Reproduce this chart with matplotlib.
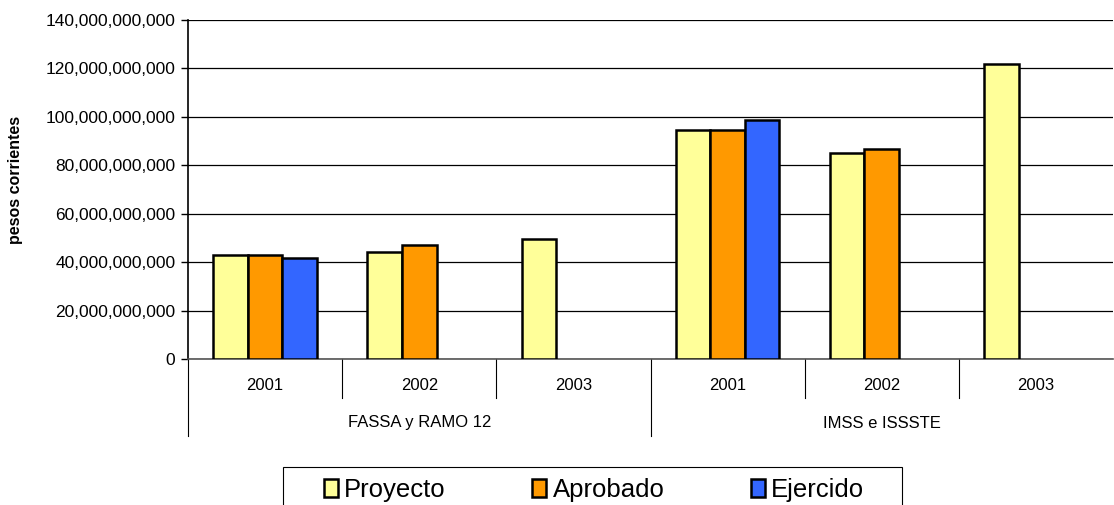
import matplotlib
matplotlib.use("Agg")
import matplotlib.pyplot as plt
import numpy as np
from matplotlib.ticker import FuncFormatter
from matplotlib.patches import Rectangle

plt.rcParams['font.family'] = ['Liberation Sans', 'DejaVu Sans']

groups = ["FASSA y RAMO 12", "IMSS e ISSSTE"]
years = ["2001", "2002", "2003", "2001", "2002", "2003"]
series_names = ["Proyecto", "Aprobado", "Ejercido"]
proyecto = [42.8e9, 44.2e9, 49.5e9, 94.6e9, 85.0e9, 121.8e9]
aprobado = [42.8e9, 47.1e9, np.nan, 94.6e9, 86.8e9, np.nan]
ejercido = [41.6e9, np.nan, np.nan, 98.8e9, np.nan, np.nan]
colors = ["#FFFF99", "#FF9900", "#3366FF"]

W, H = 1114, 505
fig = plt.figure(figsize=(W / 100, H / 100), dpi=100)
ax_w = 1113 - 188
ax_h = 359 - 20
ax = fig.add_axes([188 / W, 1 - 359 / H, ax_w / W, ax_h / H])

x = np.arange(len(years))
bw = 0.224
handles = []
for i, (vals, c, name) in enumerate(zip([proyecto, aprobado, ejercido], colors, series_names)):
    h = ax.bar(x + (i - 1) * bw, vals, width=bw, color=c, edgecolor="black",
               linewidth=1.8, label=name, zorder=3)
    handles.append(h)

ax.set_xlim(-0.5, len(years) - 0.5)
ax.set_ylim(0, 140e9)
ax.set_yticks(np.arange(0, 140e9 + 1, 20e9))
ax.yaxis.set_major_formatter(FuncFormatter(lambda v, p: f"{v:,.0f}"))
ax.grid(axis="y", color="black", linewidth=0.9, zorder=0)
ax.tick_params(axis="y", direction="out", length=5, width=1, labelsize=12.5, pad=4)
for s in ["top", "right"]:
    ax.spines[s].set_visible(False)
ax.spines["left"].set_linewidth(1.2)
ax.spines["bottom"].set_linewidth(1.2)
ax.spines["bottom"].set_color("#555555")

ax.set_xticks(x)
ax.set_xticklabels(years, fontsize=12)
ax.tick_params(axis="x", length=0, pad=14)

ax.set_ylabel("pesos corrientes", fontsize=11.5, fontweight="bold")
ax.yaxis.set_label_coords((23 - 188) / ax_w, (359 - 180) / ax_h)

trans = ax.get_xaxis_transform()
for b in [0.5, 1.5, 3.5, 4.5]:
    ax.plot([b, b], [0, -39 / ax_h], transform=trans, color="black", lw=0.8, clip_on=False)
for b in [-0.5, 2.5]:
    ax.plot([b, b], [0, -77 / ax_h], transform=trans, color="black", lw=0.8, clip_on=False)
for gi, g in enumerate(groups):
    ax.text(gi * 3 + 1, -64 / ax_h, g, transform=trans, ha="center", va="center", fontsize=12)

# legend box
fig.patches.append(Rectangle((283 / W, 1 - 515 / H), (902 - 283) / W, (515 - 467) / H,
                             transform=fig.transFigure, facecolor="white",
                             edgecolor="black", linewidth=0.8, zorder=1))
leg = fig.legend(handles=handles, labels=series_names, loc="center",
                 bbox_to_anchor=(594 / W, 1 - 490 / H), ncol=3, fontsize=18.5,
                 frameon=False, handlelength=0.55, handleheight=0.75, handletextpad=0.25,
                 columnspacing=3.35, borderpad=0.0)
for p in leg.get_patches():
    p.set_linewidth(1.8)

fig.savefig("out.png", dpi=100)
